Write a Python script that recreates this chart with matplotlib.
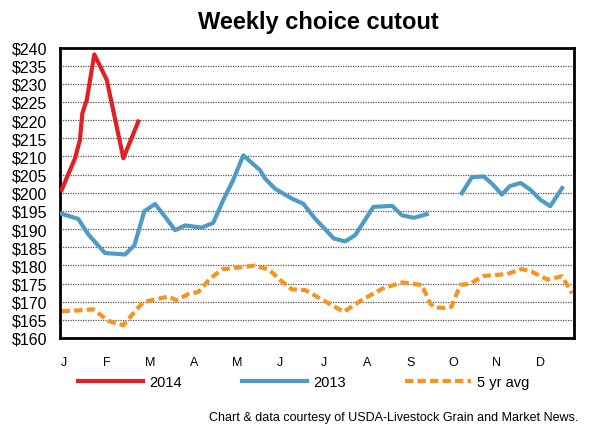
import numpy as np
import matplotlib
matplotlib.use('Agg')
import matplotlib.pyplot as plt

# x values are week positions (0 = start of January)
months = ['J', 'F', 'M', 'A', 'M', 'J', 'J', 'A', 'S', 'O', 'N', 'D']

x2014 = [0.17, 1.52, 2.02, 2.26, 2.71, 3.47, 4.73, 6.41, 7.92]
y2014 = [200.8, 209.5, 214.6, 221.9, 225.6, 238.1, 231.1, 209.5, 219.6]

x2013 = [0.17, 1.85, 2.87, 4.55, 6.58, 7.52, 8.53, 9.62, 10.6, 11.64, 12.65, 14.34,
         15.5, 16.5, 17.5, 18.55, 20.24, 20.75, 21.76, 23.45, 24.6, 25.8, 27.7,
         28.85, 29.86, 31.7, 33.6, 34.6, 35.8, 37.1, 38.9,
         40.66, 41.67, 42.85, 43.7, 44.7, 45.5, 46.6, 47.6, 48.6, 49.6, 50.8]
y2013 = [194.2, 192.8, 188.5, 183.4, 183.0, 185.5, 194.9, 196.9, 193.5, 189.7, 191.0, 190.4,
         191.7, 197.9, 203.4, 210.3, 206.2, 203.9, 201.1, 198.4, 197.0, 192.9, 187.4,
         186.6, 188.3, 196.1, 196.4, 193.8, 193.1, 194.1, np.nan,
         199.9, 204.3, 204.5, 202.5, 199.5, 201.8, 202.7, 200.8, 198.1, 196.3, 201.3]

xavg = [0.17, 1.85, 3.37, 4.9, 6.4, 7.6, 8.43, 9.6, 10.96, 11.8, 12.98, 14.0, 15.2, 16.4,
        18.05, 19.6, 21.1, 22.3, 23.45, 24.8, 26.5, 28.7, 30.5, 32.6, 34.6, 36.6, 37.45,
        37.95, 38.97, 39.6, 40.5, 41.5, 42.85, 45.2, 46.7, 47.7, 49.3, 50.8, 51.8]
yavg = [167.4, 167.6, 167.9, 164.7, 163.5, 167.4, 169.9, 170.6, 171.4, 170.4, 172.1, 172.7,
        176.4, 178.9, 179.4, 179.9, 178.9, 175.9, 173.4, 173.2, 170.6, 167.2, 170.4, 173.6,
        175.3, 174.6, 169.5, 168.4, 168.3, 168.6, 174.6, 175.0, 177.1, 177.6, 179.0, 178.3,
        176.1, 177.0, 172.3]

font = 'Liberation Sans'

fig = plt.figure(figsize=(6.1, 4.35), dpi=100)
ax = fig.add_axes([60/610, 1 - 339/435, 514/610, (339 - 48.5)/435])

for v in range(165, 240, 5):
    ax.axhline(v, color='#555555', lw=0.9, ls=(0, (1, 1)), zorder=1)

ax.plot(x2014, y2014, color='#e31e24', lw=3, label='2014', zorder=4)
ax.plot(x2013, y2013, color='#4e9bc8', lw=3, label='2013', zorder=3)
ax.plot(xavg, yavg, color='#f7941d', lw=3, ls=(0, (2, 1)), label='5 yr avg', zorder=2)

ax.set_xlim(0, 52)
ax.set_ylim(160, 240)
ax.set_yticks(range(160, 241, 5))
ax.set_yticklabels(['$%d' % v for v in range(160, 241, 5)], family=font, fontsize=11.5)
ax.set_xticks([0.4 + 4.38 * i for i in range(12)])
ax.set_xticklabels(months, family=font, fontsize=9)
ax.tick_params(axis='both', length=0)
ax.tick_params(axis='y', pad=9)
ax.tick_params(axis='x', pad=13)
for s in ax.spines.values():
    s.set_linewidth(2)
    s.set_color('black')

fig.text(318/610, 1 - 22/435, 'Weekly choice cutout', ha='center', va='center',
         family=font, fontweight='bold', fontsize=17)

leg = fig.legend(loc='center', bbox_to_anchor=(0.4975, 1 - 383/435), ncol=3, frameon=False,
                 handlelength=4.5, handletextpad=0.4, columnspacing=4.1,
                 prop={'family': font, 'size': 10.5})

fig.text(578/610, 1 - 418/435, 'Chart & data courtesy of USDA-Livestock Grain and Market News.',
         ha='right', va='center', family=font, fontsize=9)

fig.savefig('out.png', dpi=100)
